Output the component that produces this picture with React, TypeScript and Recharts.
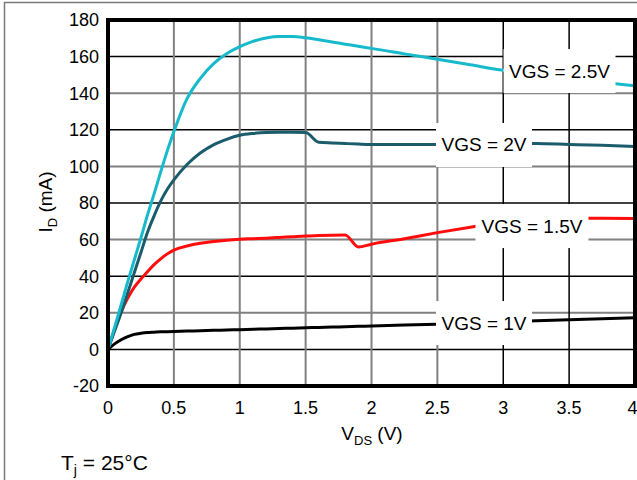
import React from 'react';
import { LineChart, Line, XAxis, YAxis, ReferenceLine, ReferenceArea, ReferenceDot } from 'recharts';

// V_DS sample points (V)
const VDS = [0, 0.05, 0.1, 0.15, 0.2, 0.25, 0.3, 0.35, 0.4, 0.45, 0.5, 0.6, 0.7, 0.8, 0.9, 1.0, 1.1, 1.2, 1.3, 1.4, 1.5, 1.6, 1.7, 1.8, 1.9, 2.0, 2.25, 2.5, 2.75, 3.0, 3.25, 3.5, 3.75, 4.0];

// I_D (mA) per gate voltage
const ID_VGS_25 = [0, 12, 24.5, 37, 49, 61, 73.5, 85, 97, 108.5, 119, 137, 148, 156, 161.5, 165.4, 168.3, 170.2, 171, 171, 170.3, 169.2, 168, 166.8, 165.6, 164.5, 161.5, 158.5, 155.5, 152.5, 150.5, 148.5, 146, 144];
const ID_VGS_2 = [0, 10, 20, 31, 42, 53, 64, 73, 81, 87.5, 92.6, 101, 107.3, 111.8, 114.8, 117, 118, 118.5, 118.6, 118.6, 118.5, 113.2, 112.8, 112.5, 112.2, 112, 112, 112, 112.3, 112.6, 112.5, 112, 111.5, 110.8];
const ID_VGS_15 = [0, 11, 20.5, 28, 34, 38.5, 42.5, 46.3, 49.5, 52.2, 54.3, 56.5, 58, 59, 59.7, 60.2, 60.5, 60.8, 61.2, 61.6, 62, 62.2, 62.4, 62.5, 56, 57.5, 60.5, 63.8, 66.8, 69.5, 71, 71.6, 71.6, 71.5];
const ID_VGS_1 = [0, 3, 5.3, 7, 8.2, 8.8, 9.2, 9.4, 9.6, 9.7, 9.8, 10, 10.2, 10.4, 10.6, 10.8, 11, 11.2, 11.4, 11.6, 11.8, 12, 12.2, 12.4, 12.6, 12.8, 13.3, 13.8, 14.4, 15, 15.6, 16.2, 16.8, 17.3];

const X_TICKS = [0, 0.5, 1, 1.5, 2, 2.5, 3, 3.5, 4];
const Y_TICKS = [-20, 0, 20, 40, 60, 80, 100, 120, 140, 160, 180];

const data = VDS.map((v, i) => ({
  vds: v,
  vgs25: ID_VGS_25[i],
  vgs2: ID_VGS_2[i],
  vgs15: ID_VGS_15[i],
  vgs1: ID_VGS_1[i],
}));

const series = [
  { key: 'vgs1', color: '#000000' },
  { key: 'vgs15', color: '#ff0d0d' },
  { key: 'vgs2', color: '#1b5c6c' },
  { key: 'vgs25', color: '#17bacb' },
];

// curve annotations (text, anchor in data units, box width in px)
const annotations = [
  { text: 'VGS = 2.5V', x: 3.427, y: 152.1, w: 112 },
  { text: 'VGS = 2V', x: 2.854, y: 111.7, w: 96 },
  { text: 'VGS = 1.5V', x: 3.218, y: 67.4, w: 113 },
  { text: 'VGS = 1V', x: 2.854, y: 14.4, w: 96 },
];

const FONT = '"Liberation Sans", Arial, sans-serif';

const gridColor = (v: number, horizontal: boolean) => {
  if (horizontal) return v % 40 === 0 ? '#000000' : '#808080';
  return v >= 3 ? '#000000' : '#808080';
};

const App: React.FC = () => {
  return (
    <div style={{ position: 'absolute', left: 0, top: 0, width: 637, height: 480, background: '#fff', overflow: 'hidden' }}>
      <LineChart width={637} height={480} data={data} margin={{ top: 20, right: 2, bottom: 0, left: 0 }}>
        <XAxis
          dataKey="vds"
          type="number"
          domain={[0, 4]}
          ticks={X_TICKS}
          axisLine={false}
          tickLine={false}
          tickSize={0}
          tickMargin={15}
          height={94}
          tick={{ fill: '#000', fontSize: 18, fontFamily: FONT }}
          label={{
            content: () => (
              <text x={372} y={440} textAnchor="middle" fontSize={19} fontFamily={FONT} fill="#000">
                V<tspan fontSize={13} dy={5}>DS</tspan><tspan dy={-5}> (V)</tspan>
              </text>
            ),
          }}
        />
        <YAxis
          type="number"
          domain={[-20, 180]}
          ticks={Y_TICKS}
          axisLine={false}
          tickLine={false}
          tickSize={0}
          tickMargin={9}
          width={108}
          interval={0}
          tick={{ fill: '#000', fontSize: 18, fontFamily: FONT }}
          label={{
            content: () => (
              <text x={52} y={202} transform="rotate(-90 52 202)" textAnchor="middle" fontSize={19} fontFamily={FONT} fill="#000">
                I<tspan fontSize={13} dy={5}>D</tspan><tspan dy={-5}> (mA)</tspan>
              </text>
            ),
          }}
        />
        {Y_TICKS.filter((v) => v > -20 && v < 180).map((v) => (
          <ReferenceLine key={`h${v}`} y={v} stroke={gridColor(v, true)} strokeWidth={v % 40 === 0 ? 1.5 : 2} />
        ))}
        {X_TICKS.filter((v) => v > 0 && v < 4).map((v) => (
          <ReferenceLine key={`v${v}`} x={v} stroke={gridColor(v, false)} strokeWidth={v >= 3 ? 1.5 : 2} />
        ))}
        {series.map((s) => (
          <Line
            key={s.key}
            type="monotone"
            dataKey={s.key}
            stroke={s.color}
            strokeWidth={3}
            dot={false}
            isAnimationActive={false}
          />
        ))}
        {annotations.map((a) => (
          <ReferenceDot
            key={a.text}
            x={a.x}
            y={a.y}
            r={0}
            ifOverflow="visible"
            zIndex={1000}
            shape={(p: any) => (
              <g>
                <rect x={p.cx - a.w / 2} y={p.cy - 22} width={a.w} height={44} fill="#fff" />
                <text x={p.cx} y={p.cy} textAnchor="middle" dominantBaseline="central" fontSize={19} fontFamily={FONT} fill="#000">
                  {a.text}
                </text>
              </g>
            )}
          />
        ))}
        <ReferenceArea x1={0} x2={4} y1={-20} y2={180} fill="none" fillOpacity={0} stroke="#000" strokeWidth={4} ifOverflow="visible" zIndex={1100} />
      </LineChart>
      <svg width={637} height={480} style={{ position: 'absolute', left: 0, top: 0, pointerEvents: 'none' }}>
        <rect x={4.5} y={2.5} width={1000} height={1000} fill="none" stroke="#7a7a7a" strokeWidth={1.5} />
        <text x={61} y={470} fontSize={21} fontFamily={FONT} fill="#000">
          T<tspan fontSize={14} dy={5}>j</tspan><tspan dy={-5}> = 25°C</tspan>
        </text>
      </svg>
    </div>
  );
};

export default App;
